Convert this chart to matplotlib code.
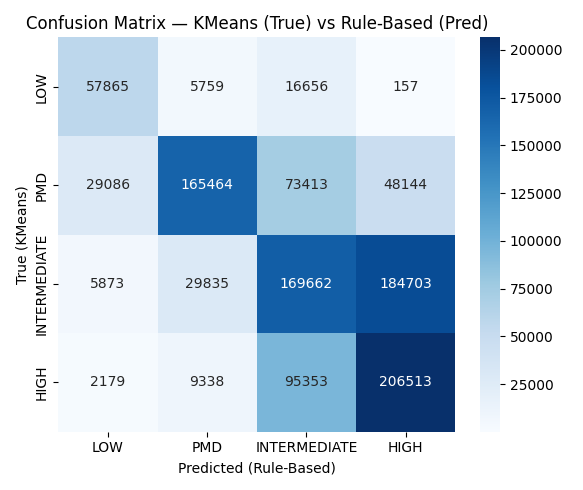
import matplotlib
matplotlib.use("Agg")
import matplotlib.pyplot as plt
import seaborn as sns
import numpy as np

labels = ["LOW", "PMD", "INTERMEDIATE", "HIGH"]
row_low = [57865, 5759, 16656, 157]
row_pmd = [29086, 165464, 73413, 48144]
row_int = [5873, 29835, 169662, 184703]
row_high = [2179, 9338, 95353, 206513]
cm = np.array([row_low, row_pmd, row_int, row_high])

fig, ax = plt.subplots(figsize=(5.83, 4.9), dpi=100)
sns.heatmap(cm, annot=True, fmt="d", cmap="Blues", xticklabels=labels, yticklabels=labels, ax=ax)
ax.set_title("Confusion Matrix — KMeans (True) vs Rule-Based (Pred)")
ax.set_xlabel("Predicted (Rule-Based)")
ax.set_ylabel("True (KMeans)")
plt.tight_layout()
plt.savefig("out.png", dpi=100)
